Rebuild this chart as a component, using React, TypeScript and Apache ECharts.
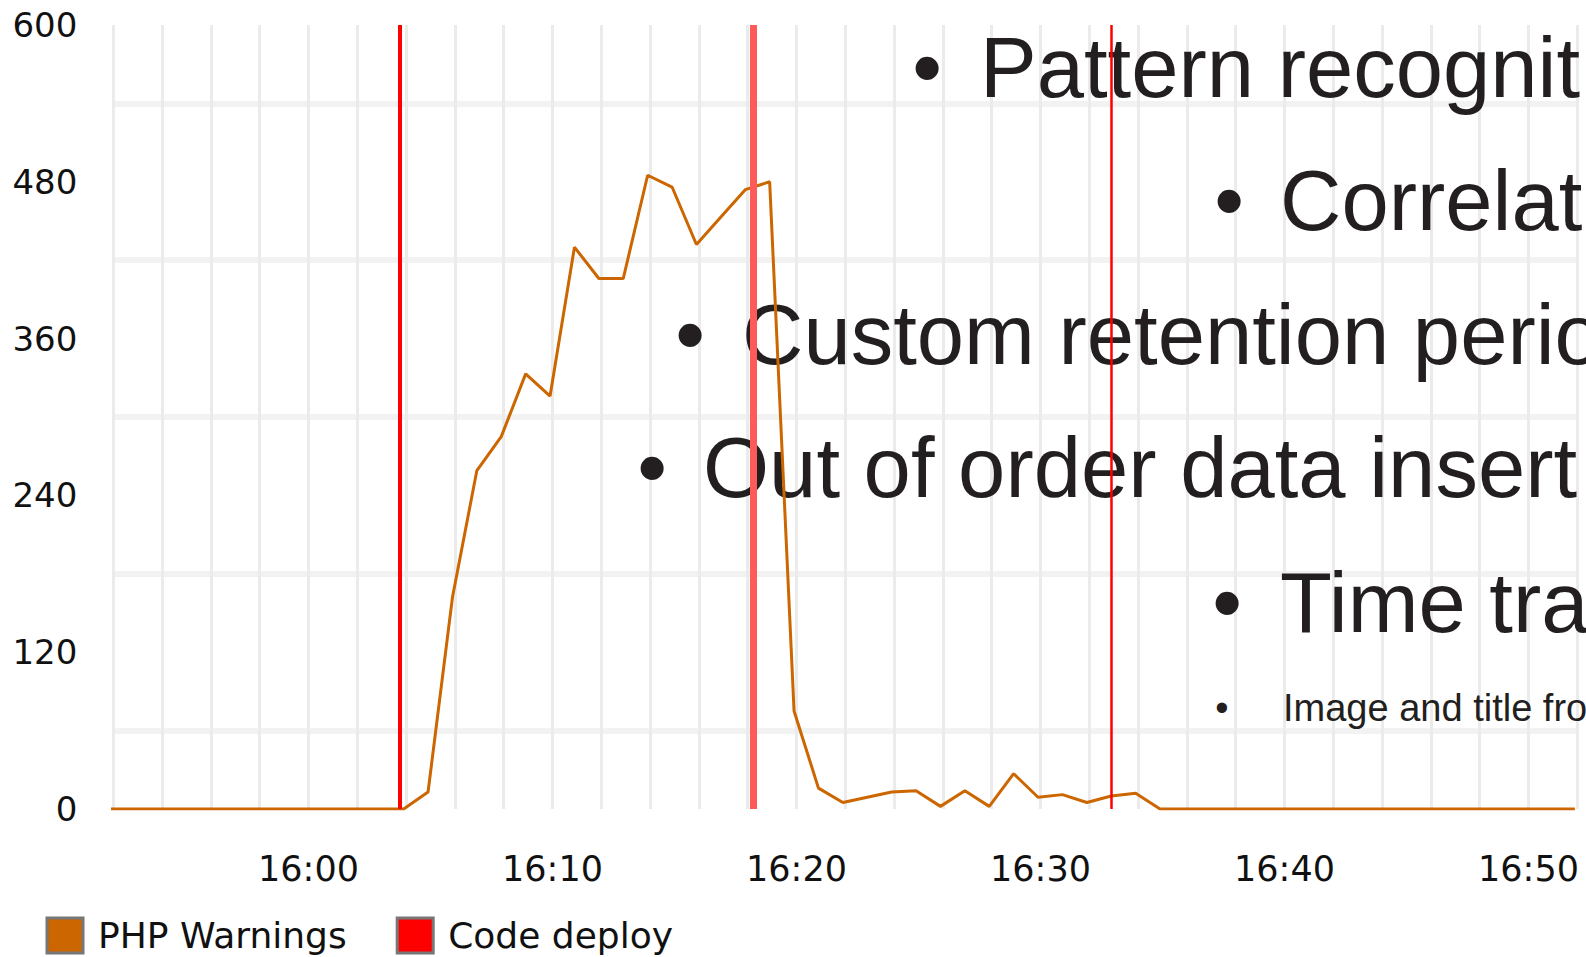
import React, { useEffect, useRef } from 'react';
import * as echarts from 'echarts';

// Minutes relative to 16:00 for each sample of the "PHP Warnings" series
const warningMinutes = [
  -8.1, -7.1, -6.1, -5.1, -4.1, -3.1, -2.1, -1.1, -0.1, 0.9, 1.9, 2.9,
  3.9, 4.9, 5.9, 6.9, 7.9, 8.9, 9.9, 10.9, 11.9, 12.9, 13.9, 14.9, 15.9,
  16.9, 17.9, 18.9, 19.9, 20.9, 21.9, 22.9, 23.9, 24.9, 25.9, 26.9, 27.9,
  28.9, 29.9, 30.9, 31.9, 32.9, 33.9, 34.9, 35.9, 36.9, 37.9, 38.9, 39.9,
  40.9, 41.9, 42.9, 43.9, 44.9, 45.9, 46.9, 47.9, 48.9, 49.9, 50.9, 51.9,
];
const warningValues = [
  0, 0, 0, 0, 0, 0, 0, 0, 0, 0, 0, 0,
  0, 13, 162, 259, 285, 333, 316, 430, 406, 406, 485, 476, 432,
  453, 474, 480, 75, 16, 5, 9, 13, 14, 2, 14, 2,
  27, 9, 11, 5, 10, 12, 0, 0, 0, 0, 0, 0,
  0, 0, 0, 0, 0, 0, 0, 0, 0, 0, 0, 0,
];
// Code deploy events (minutes relative to 16:00)
const deployMinutes = [3.73, 18.22, 32.89];

const xTickLabels = ['16:00', '16:10', '16:20', '16:30', '16:40', '16:50'];
const yTickValues = [0, 120, 240, 360, 480, 600];
const seriesNames = ['PHP Warnings', 'Code deploy'];

const slideBullets = [
  'Pattern recognit',
  'Correlat',
  'Custom retention perio',
  'Out of order data insert',
  'Time tra',
  'Image and title fro',
];

export default function App() {
  const ref = useRef<HTMLDivElement>(null);

  useEffect(() => {
    const chart = echarts.init(ref.current as HTMLDivElement, null, { renderer: 'svg' });
    const lineData = warningMinutes.map((m, i) => [m, warningValues[i]]);

    const deployStyles = [
      { color: '#ff0000', width: 4 },
      { color: '#ff5a5a', width: 7 },
      { color: '#ff0000', width: 2.5 },
    ];

    const slideFont = '"Liberation Sans", Arial, sans-serif';
    const BIG = 85;
    const slideLayout = [
      { bx: 927, tx: 980, y: 67, size: BIG },
      { bx: 1229, tx: 1280, y: 200.5, size: BIG },
      { bx: 690, tx: 742, y: 334.5, size: BIG },
      { bx: 652, tx: 703, y: 467.5, size: BIG },
      { bx: 1227, tx: 1280, y: 602, size: BIG },
      { bx: 1222, tx: 1283, y: 708, size: 38 },
    ];
    const graphics: any[] = [];
    slideLayout.forEach((p, i) => {
      graphics.push({
        type: 'text', x: p.bx, y: p.y, z: 1, silent: true,
        style: {
          text: '\u2022', font: `${p.size}px ${slideFont}`, fill: '#231f20',
          align: 'center', textAlign: 'center', verticalAlign: 'middle', textVerticalAlign: 'middle',
        },
      });
      graphics.push({
        type: 'text', x: p.tx, y: p.y, z: 1, silent: true,
        style: {
          text: slideBullets[i], font: `${p.size}px ${slideFont}`, fill: '#231f20',
          align: 'left', textAlign: 'left', verticalAlign: 'middle', textVerticalAlign: 'middle',
        },
      });
    });

    chart.setOption({
      animation: false,
      backgroundColor: '#ffffff',
      textStyle: { fontFamily: 'DejaVu Sans' },
      grid: { left: 113.3, right: 8.7, top: 25, bottom: 148, containLabel: false },
      legend: {
        left: 45.5,
        top: 916.5,
        padding: 0,
        icon: 'rect',
        itemWidth: 36,
        itemHeight: 35,
        itemGap: 49,
        selectedMode: false,
        itemStyle: { borderColor: '#777777', borderWidth: 3 },
        textStyle: { fontFamily: 'DejaVu Sans', fontSize: 36, color: '#111111', padding: [0, 0, 0, 10] },
        data: seriesNames,
      },
      xAxis: {
        type: 'value',
        min: -8,
        max: 52,
        interval: 2,
        axisLine: { show: false },
        axisTick: { show: false },
        axisLabel: {
          margin: 42,
          fontFamily: 'DejaVu Sans',
          fontSize: 35,
          color: '#111111',
          formatter: (v: number) => (v >= 0 && v % 10 === 0 ? xTickLabels[v / 10] || '' : ''),
        },
        splitLine: { show: true, lineStyle: { color: '#ebebeb', width: 3 } },
      },
      yAxis: {
        type: 'value',
        min: yTickValues[0],
        max: yTickValues[yTickValues.length - 1],
        interval: 120,
        axisLine: { show: false },
        axisTick: { show: false },
        axisLabel: { margin: 36, fontFamily: 'DejaVu Sans', fontSize: 34, color: '#111111' },
        splitLine: { show: false },
        minorTick: { show: false, splitNumber: 2 },
        minorSplitLine: { show: true, lineStyle: { color: '#f2f2f2', width: 6 } },
      },
      graphic: { elements: graphics },
      series: [
        {
          name: seriesNames[0],
          type: 'line',
          color: '#cc6600',
          data: lineData,
          showSymbol: false,
          symbol: 'none',
          lineStyle: { color: '#cc6600', width: 3 },
          silent: true,
          z: 3,
        },
        {
          name: seriesNames[1],
          type: 'line',
          color: '#ff0000',
          data: [],
          showSymbol: false,
          z: 4,
          markLine: {
            silent: true,
            symbol: ['none', 'none'],
            label: { show: false },
            emphasis: { disabled: true },
            data: deployMinutes.map((m, i) => ({
              xAxis: m,
              lineStyle: { type: 'solid', color: deployStyles[i].color, width: deployStyles[i].width },
            })),
          },
        },
      ],
    });

    return () => {
      chart.dispose();
    };
  }, []);

  return (
    <div
      style={{ position: 'fixed', left: 0, top: 0, width: 1586, height: 957, overflow: 'hidden', background: '#fff' }}
    >
      <div ref={ref} style={{ width: 1586, height: 957 }} />
    </div>
  );
}
